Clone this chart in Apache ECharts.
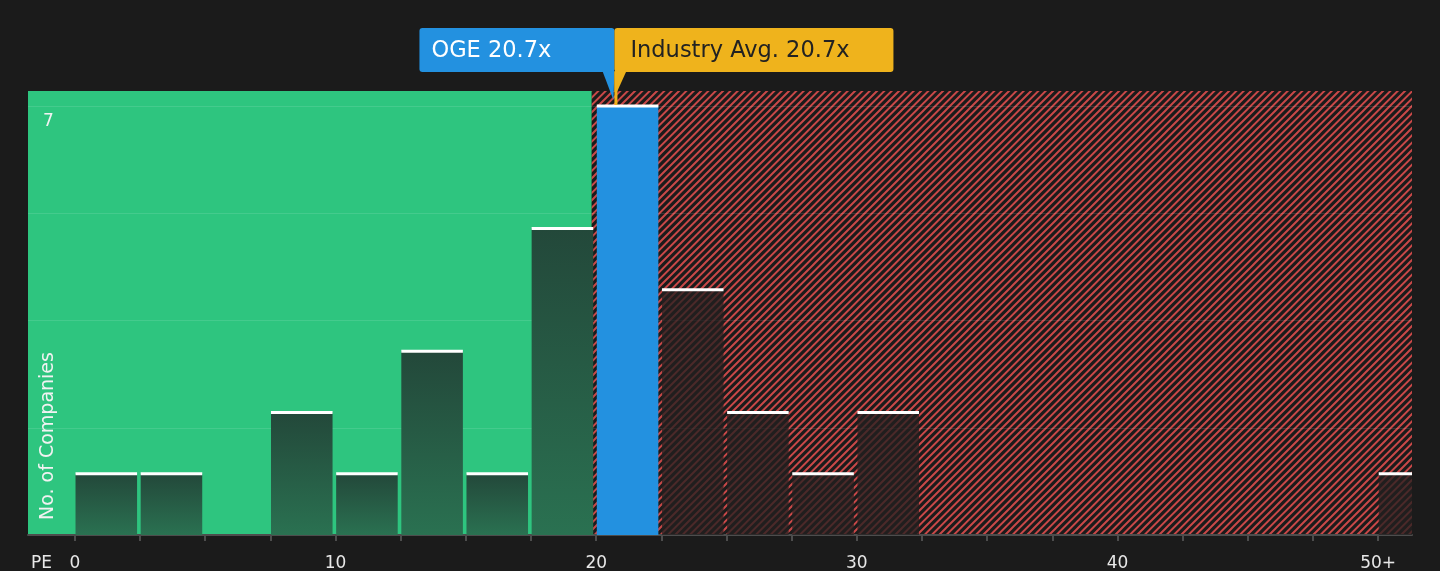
<!DOCTYPE html>
<html>
<head>
<meta charset="utf-8">
<script src="https://cdn.jsdelivr.net/npm/echarts@6/dist/echarts.min.js"></script>
<style>
  html, body { margin: 0; padding: 0; background: #1b1b1b; }
  #chart { width: 1440px; height: 571px; }
</style>
</head>
<body>
<div id="chart"></div>
<script>
// ---- data ----
const binStarts = [0, 2.5, 5, 7.5, 10, 12.5, 15, 17.5, 20, 22.5, 25, 27.5, 30, 32.5, 35, 37.5, 40, 42.5, 45, 47.5, 50];
const counts    = [1, 1, 0, 2, 1, 3, 1, 5, 7, 4, 2, 1, 2, 0, 0, 0, 0, 0, 0, 0, 1];
const binWidth = 2.5;
const companyName = 'OGE';
const companyPE = 20.7;
const industryAvg = 20.7;
const zoneSplit = 19.83;
const xMin = -1.8, xMax = 51.3;
const yMax = 7.245;
const xTickValues = [0, 2.5, 5, 7.5, 10, 12.5, 15, 17.5, 20, 22.5, 25, 27.5, 30, 32.5, 35, 37.5, 40, 42.5, 45, 47.5, 50];
const xLabelValues = [0, 10, 20, 30, 40, 50];
const xLabelTexts = ['0', '10', '20', '30', '40', '50+'];
const yGridValues = [1.75, 3.5, 5.25, 7];
const yLabelValues = [7];
const axisTitle = 'PE';
const yTitle = 'No. of Companies';

// ---- styles ----
const FONT = 'DejaVu Sans';
function makeHatch() {
  const s = 22, n = 3, period = s / n;
  const c = document.createElement('canvas');
  c.width = s; c.height = s;
  const ctx = c.getContext('2d');
  ctx.fillStyle = '#1b1b1b';
  ctx.fillRect(0, 0, s, s);
  ctx.strokeStyle = '#c94848';
  ctx.lineWidth = 2;
  ctx.beginPath();
  for (let k = 0; k <= 2 * n; k++) {
    const cc = k * period; // line x + y = cc
    ctx.moveTo(cc + 3, -3); ctx.lineTo(cc - s - 3, s + 3);
  }
  ctx.stroke();
  return c;
}
const hatch = { image: makeHatch(), repeat: 'repeat' };
const greenGrad = new echarts.graphic.LinearGradient(0, 0, 0, 1, [
  { offset: 0, color: '#23483a' },
  { offset: 1, color: '#2a7151' }
]);

// kind: 0 = below zone split (green), 1 = company bin (blue), 2 = above (red zone)
const barData = binStarts.map((s, i) => {
  const e = s + binWidth;
  let kind = s < zoneSplit ? 0 : 2;
  if (companyPE >= s && companyPE < e) kind = 1;
  return [s, e, counts[i], kind];
});
const zoneData = [[xMin, zoneSplit, 0], [zoneSplit, xMax, 1]];

const chart = echarts.init(document.getElementById('chart'));
chart.setOption({
  backgroundColor: '#1b1b1b',
  animation: false,
  grid: { left: 28, right: 28, top: 91, bottom: 36, containLabel: false, outerBoundsMode: 'none' },
  xAxis: {
    type: 'value', min: xMin, max: xMax, z: 1,
    axisLine: { show: true, lineStyle: { color: '#4d4d4d', width: 2 } },
    axisTick: { show: true, customValues: xTickValues, length: 6, lineStyle: { color: '#4d4d4d', width: 2 } },
    axisLabel: {
      customValues: xLabelValues, margin: 20, color: '#e8e8e8', fontSize: 17, fontFamily: FONT,
      formatter: v => { const i = xLabelValues.indexOf(v); return i >= 0 ? xLabelTexts[i] : ''; }
    },
    splitLine: { show: false }
  },
  yAxis: {
    type: 'value', min: 0, max: yMax, z: 1,
    axisLine: { show: false },
    axisTick: { show: false, customValues: yGridValues },
    axisLabel: {
      inside: true, customValues: yLabelValues, margin: 15, color: '#f2f2f2', fontSize: 17, fontFamily: FONT,
      verticalAlign: 'top', padding: [7, 0, 0, 0],
      formatter: v => String(v)
    },
    splitLine: { show: true, lineStyle: { color: 'rgba(255,255,255,0.11)', width: 1 } }
  },
  series: [
    {
      type: 'custom', z: 0, silent: true, clip: true,
      data: zoneData,
      renderItem(params, api) {
        const tl = api.coord([api.value(0), yMax]);
        const br = api.coord([api.value(1), 0]);
        return {
          type: 'rect',
          shape: { x: tl[0], y: tl[1], width: br[0] - tl[0], height: br[1] - tl[1] },
          style: { fill: api.value(2) === 0 ? '#2ec57f' : hatch }
        };
      }
    },
    {
      type: 'custom', z: 2, silent: true, clip: true,
      data: barData,
      renderItem(params, api) {
        const v = api.value(2);
        if (!v) return null;
        const kind = api.value(3);
        const tl = api.coord([api.value(0), v]);
        const br = api.coord([api.value(1), 0]);
        const left = tl[0] + 0.6;
        const width = br[0] - tl[0] - 3.6;
        const fill = kind === 0 ? greenGrad : (kind === 1 ? '#2391e0' : 'rgba(36,31,31,0.76)');
        return {
          type: 'group',
          children: [
            { type: 'rect', shape: { x: left, y: tl[1], width: width, height: br[1] - tl[1] }, style: { fill } },
            { type: 'rect', shape: { x: left, y: tl[1] - 1.5, width: width, height: 3 }, style: { fill: '#ffffff' } }
          ]
        };
      }
    }
  ]
});

// ---- callouts & titles ----
const p = chart.convertToPixel({ xAxisIndex: 0, yAxisIndex: 0 }, [companyPE, counts[binStarts.findIndex(s => companyPE >= s && companyPE < s + binWidth)]]);
const pa = chart.convertToPixel({ xAxisIndex: 0, yAxisIndex: 0 }, [industryAvg, 0]);
const px = p[0], barTop = p[1], ax = pa[0];
const boxTop = 28, boxH = 44;
const base = chart.convertToPixel({ xAxisIndex: 0, yAxisIndex: 0 }, [xMin, 0]);
chart.setOption({
  graphic: [
    { type: 'rect', shape: { x: px - 195, y: boxTop, width: 195, height: boxH, r: 3 }, style: { fill: '#2391e0' }, z: 10 },
    { type: 'polygon', shape: { points: [[px - 12, boxTop + boxH - 1], [px, boxTop + boxH - 1], [px - 1, barTop - 6]] }, style: { fill: '#2391e0' }, z: 10 },
    { type: 'text', x: px - 183, y: boxTop + boxH / 2 + 1, style: { text: companyName + ' ' + companyPE + 'x', fill: '#ffffff', font: '22.5px "DejaVu Sans"', textVerticalAlign: 'middle', textAlign: 'left' }, z: 11 },
    { type: 'rect', shape: { x: ax, y: boxTop, width: 279, height: boxH, r: 3 }, style: { fill: '#efb31c' }, z: 12 },
    { type: 'polygon', shape: { points: [[ax, boxTop + boxH - 1], [ax + 12, boxTop + boxH - 1], [ax + 2.5, barTop - 14], [ax, barTop - 14]] }, style: { fill: '#efb31c' }, z: 12 },
    { type: 'rect', shape: { x: ax, y: boxTop + boxH, width: 3, height: barTop - boxTop - boxH - 1 }, style: { fill: '#efb31c' }, z: 12 },
    { type: 'text', x: ax + 16, y: boxTop + boxH / 2 + 1, style: { text: 'Industry Avg. ' + industryAvg + 'x', fill: '#222222', font: '22.5px "DejaVu Sans"', textVerticalAlign: 'middle', textAlign: 'left' }, z: 13 },
    { type: 'text', x: 31, y: base[1] + 29, style: { text: axisTitle, fill: '#e8e8e8', font: '17px "DejaVu Sans"', textVerticalAlign: 'middle', textAlign: 'left' }, z: 13 },
    { type: 'text', x: 48, y: base[1] - 15, rotation: Math.PI / 2, style: { text: yTitle, fill: '#f2f2f2', font: '19px "DejaVu Sans"', textVerticalAlign: 'middle', textAlign: 'left' }, z: 13 }
  ]
});
</script>
</body>
</html>
